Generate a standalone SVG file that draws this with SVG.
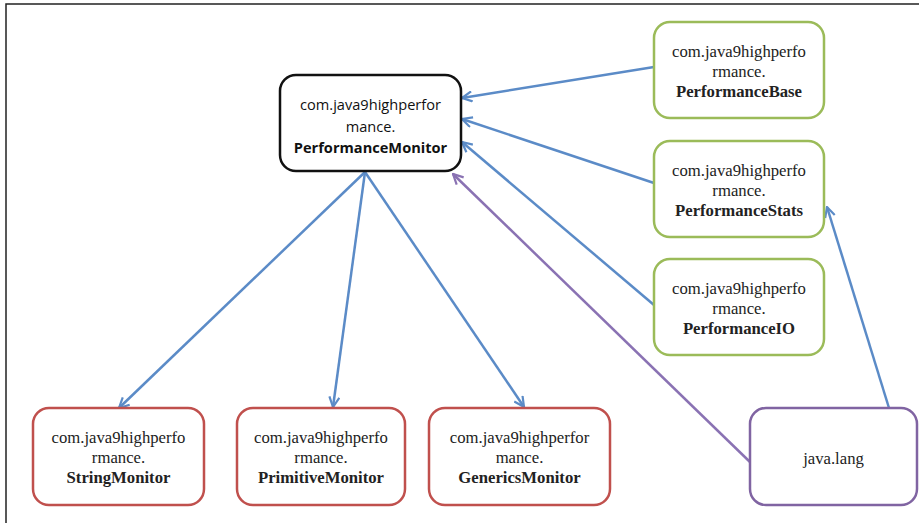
<svg xmlns="http://www.w3.org/2000/svg" width="919" height="523" viewBox="0 0 919 523">
<defs>
<marker id="ab" viewBox="0 0 12 12" refX="11" refY="6" markerWidth="12" markerHeight="12" markerUnits="userSpaceOnUse" orient="auto">
<path d="M1,1 L11,6 L1,11" fill="none" stroke="#5b8bc7" stroke-width="2.2"/>
</marker>
<marker id="ap" viewBox="0 0 12 12" refX="11" refY="6" markerWidth="12" markerHeight="12" markerUnits="userSpaceOnUse" orient="auto">
<path d="M1,1 L11,6 L1,11" fill="none" stroke="#8a72b3" stroke-width="2.2"/>
</marker>
</defs>
<style>
.box{fill:#fff;stroke-width:2.5}
.blk{stroke:#111}
.grn{stroke:#9bbb59}
.red{stroke:#c0504d}
.pur{stroke:#8064a2}
.sans{font-family:"Open Sans","Liberation Sans",sans-serif;font-size:14.6px;fill:#111;text-anchor:middle}
.serif{font-family:"Liberation Serif","DejaVu Serif",serif;font-size:16.7px;fill:#222;text-anchor:middle}
.b{font-weight:bold}
.cb{fill:none;stroke:#5b8bc7;stroke-width:2.5}
.cp{fill:none;stroke:#8a72b3;stroke-width:2.5}
</style>
<rect width="919" height="523" fill="#fff"/>
<path d="M6,523 V4 H919" fill="none" stroke="#222" stroke-width="1.5"/>
<g id="connectors">
<line class="cb" x1="654" y1="67" x2="462" y2="98" marker-end="url(#ab)"/>
<line class="cb" x1="654" y1="183" x2="462" y2="119" marker-end="url(#ab)"/>
<line class="cb" x1="654" y1="305" x2="462" y2="142" marker-end="url(#ab)"/>
<line class="cb" x1="365" y1="172" x2="119" y2="408" marker-end="url(#ab)"/>
<line class="cb" x1="365" y1="172" x2="333" y2="407" marker-end="url(#ab)"/>
<line class="cb" x1="365" y1="172" x2="524" y2="407" marker-end="url(#ab)"/>
<line class="cp" x1="750" y1="462" x2="453" y2="174" marker-end="url(#ap)"/>
<line class="cb" x1="889" y1="408" x2="827" y2="207" marker-end="url(#ab)"/>
</g>
<g id="PerformanceMonitor">
<rect class="box blk" x="280" y="75" width="181" height="96" rx="16"/>
<text class="sans" x="370.5" y="110">com.java9highperfor</text>
<text class="sans" x="370.5" y="132">mance.</text>
<text class="sans b" x="370.5" y="153">PerformanceMonitor</text>
</g>
<g id="PerformanceBase">
<rect class="box grn" x="654" y="22" width="170" height="96" rx="16"/>
<text class="serif" x="739" y="57">com.java9highperfo</text>
<text class="serif" x="739" y="77">rmance.</text>
<text class="serif b" x="739" y="97">PerformanceBase</text>
</g>
<g id="PerformanceStats">
<rect class="box grn" x="654" y="141" width="170" height="96" rx="16"/>
<text class="serif" x="739" y="176">com.java9highperfo</text>
<text class="serif" x="739" y="196">rmance.</text>
<text class="serif b" x="739" y="216">PerformanceStats</text>
</g>
<g id="PerformanceIO">
<rect class="box grn" x="654" y="259" width="170" height="96" rx="16"/>
<text class="serif" x="739" y="294">com.java9highperfo</text>
<text class="serif" x="739" y="314">rmance.</text>
<text class="serif b" x="739" y="334">PerformanceIO</text>
</g>
<g id="StringMonitor">
<rect class="box red" x="33" y="408" width="171" height="97" rx="16"/>
<text class="serif" x="118.5" y="443">com.java9highperfo</text>
<text class="serif" x="118.5" y="463">rmance.</text>
<text class="serif b" x="118.5" y="483">StringMonitor</text>
</g>
<g id="PrimitiveMonitor">
<rect class="box red" x="237" y="408" width="168" height="97" rx="16"/>
<text class="serif" x="321" y="443">com.java9highperfo</text>
<text class="serif" x="321" y="463">rmance.</text>
<text class="serif b" x="321" y="483">PrimitiveMonitor</text>
</g>
<g id="GenericsMonitor">
<rect class="box red" x="429" y="408" width="181" height="97" rx="16"/>
<text class="serif" x="519.5" y="443">com.java9highperfor</text>
<text class="serif" x="519.5" y="463">mance.</text>
<text class="serif b" x="519.5" y="483">GenericsMonitor</text>
</g>
<g id="java.lang">
<rect class="box pur" x="750" y="408" width="167" height="97" rx="16"/>
<text class="serif" x="833.5" y="464">java.lang</text>
</g>
</svg>
